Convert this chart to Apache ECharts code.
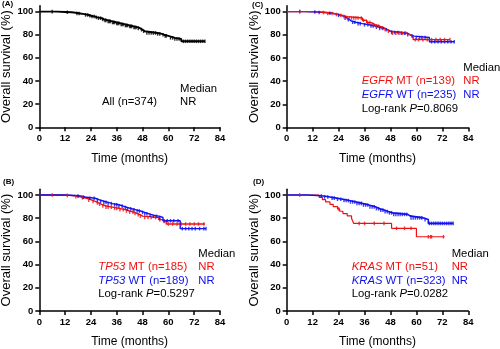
<!DOCTYPE html>
<html><head><meta charset="utf-8">
<script src="https://cdn.jsdelivr.net/npm/echarts@6/dist/echarts.min.js"></script>
<style>html,body{margin:0;padding:0;background:#fff}#c{width:500px;height:349px}</style>
</head><body><div id="c"></div>
<script>
// ---- axis ticks ----
const xTicks = [0, 12, 24, 36, 48, 60, 72, 84];
const yTicks = [0, 20, 40, 60, 80, 100];

// ---- Panel A: all patients ----
const A_time = [0, 8, 12, 15, 17, 19, 21, 23, 24, 26, 27, 29, 30, 32, 34, 36, 38, 40, 42, 44, 46, 47, 48, 49, 55, 57, 58, 60, 63, 66, 77];
const A_surv = [100, 99.7, 99.4, 99, 98.4, 97.8, 97.1, 96.4, 95.7, 95, 94.3, 93.3, 92.4, 91.5, 90.6, 89.8, 88.9, 88, 87.2, 86.3, 85.5, 84.3, 83, 81.5, 80.7, 80, 79, 77.3, 76.3, 74.3, 74.3];
const A_cens = [6, 13, 17.5, 18.5, 21.5, 22.5, 23.5, 24.5, 25.5, 26.5, 27.5, 28.5, 29.5, 30.5, 31, 32, 32.5, 33, 34, 34.5, 35, 36, 36.5, 37, 38, 38.5, 39, 40, 40.5, 41, 42, 42.5, 43, 44, 44.5, 45, 46, 47.5, 48.5, 50, 51, 52, 53, 54, 55, 56, 57.5, 58.5, 59, 61, 62, 63, 64, 65, 67, 68, 69, 70, 71, 72, 73, 74, 75, 76, 77];

// ---- Panel C: EGFR ----
const C_mt_time = [0, 13, 18, 22, 24, 26, 28, 35, 37, 39, 41, 43, 45, 46.5, 47.5, 55.5, 57, 58.5, 75.5];
const C_mt_surv = [100, 99.2, 98.3, 97.5, 96.6, 95.7, 94.5, 92.5, 90.5, 88.8, 87.4, 86, 84.5, 83, 81.4, 80.2, 78.5, 75.8, 75.8];
const C_mt_cens = [6, 17, 19, 21, 23, 25, 26.5, 28, 29, 30, 31, 32, 33, 34.5, 35.5, 37.5, 38.5, 40, 41.5, 42.5, 44, 45.5, 47, 49, 50.5, 52, 53.5, 55, 59.5, 61, 63, 65, 67, 69, 71, 73, 75.5];
const C_wt_time = [0, 8, 14, 18, 21, 23, 25, 27, 28, 29, 30, 32, 35, 38, 41, 43, 45, 47, 48, 53, 56, 57, 59, 66, 77.5];
const C_wt_surv = [100, 99.6, 99.2, 98.6, 97.8, 96.8, 95.6, 94.3, 93, 91.8, 90.8, 89.6, 88.6, 87.6, 86.5, 85.5, 84.3, 83, 82, 81.3, 80, 78.8, 77.6, 74, 74];
const C_wt_cens = [6, 13, 15, 20, 24, 27, 28.5, 30.5, 31.5, 33, 34, 36, 37.5, 39, 40, 41.5, 43, 44.5, 46, 48.5, 50, 51.5, 53, 54.5, 56, 58, 60, 61.5, 62.5, 64, 67, 68.5, 70, 71.5, 73, 74.5, 76, 77.5];

// ---- Panel B: TP53 ----
const B_mt_time = [0, 10, 14, 17, 19, 21, 23, 24.5, 26, 27.5, 29, 31, 34, 37, 40, 42, 44, 45.5, 47, 48, 55.5, 57, 59, 77];
const B_mt_surv = [100, 99.7, 99.2, 98.5, 97.6, 96.6, 95.6, 94.5, 93.2, 92, 90.5, 89.5, 88.5, 87.4, 86.2, 85.2, 84, 83, 81.8, 80.6, 78.8, 77.3, 75, 75];
const B_mt_cens = [6, 13, 17, 20, 23, 25, 27, 28, 29.5, 31, 32, 33.5, 35, 36, 37.5, 39, 40.5, 42, 43.5, 44.5, 46, 47, 49, 50.5, 52, 54, 56, 58, 60, 62, 64, 66, 68, 70, 72, 74, 76.5];
const B_wt_time = [0, 12, 17, 20, 22, 26, 28, 30, 32, 34, 37, 39, 41, 43, 45, 47, 49, 51, 53, 56, 57.5, 65.5, 77.5];
const B_wt_surv = [100, 99.6, 99, 98, 97.2, 95.8, 94.6, 93.6, 92.6, 91.6, 90.4, 89.2, 88.1, 87.2, 86.2, 85, 83.8, 82.6, 81.6, 80.6, 77.8, 71, 71];
const B_wt_cens = [18, 20.5, 23.5, 25.5, 27, 28.5, 30, 31, 32, 33.5, 35, 36, 37, 38.5, 40, 41, 42.5, 44, 45.5, 46.5, 48, 49, 50, 51.5, 53, 54.5, 56, 58, 59.5, 61, 62.5, 64.5, 66.5, 68, 69.5, 71, 72.5, 74.5, 76.5, 77.5];

// ---- Panel D: KRAS ----
const D_mt_time = [0, 15, 16.5, 18, 20, 21.5, 23.5, 24.5, 26, 28, 30, 30.5, 31, 48.5, 60, 73];
const D_mt_surv = [100, 98, 96, 94, 92, 90, 88, 86, 84, 82, 80, 77.5, 75.5, 71.3, 64, 64];
const D_mt_cens = [6, 24, 33.5, 36, 40.5, 45, 50.8, 54.5, 57.5, 65.5, 66.5, 67, 72.5];
const D_wt_time = [0, 10, 14, 17, 20, 23, 26, 29, 32, 35, 38, 41, 43, 45, 47, 49, 56, 57, 63, 65.5, 77];
const D_wt_surv = [100, 99.6, 99.2, 98.3, 97.3, 96.3, 95.2, 94, 92.8, 91.4, 89.8, 88.2, 87, 85.7, 84.6, 83.3, 82, 80.3, 78.8, 75.5, 75.5];
const D_wt_cens = [16, 17.5, 19, 21, 22, 23.5, 25, 26.5, 27.5, 28.5, 29.5, 30.5, 31.5, 32.5, 33.5, 34.5, 35.5, 36.5, 37.5, 38.5, 39.5, 40.5, 41.5, 42.5, 43.5, 44.5, 45.5, 46.5, 47.5, 48.5, 49.5, 50.5, 51.5, 52.5, 53.5, 54.5, 55.5, 57.5, 58.5, 59.5, 60.5, 61.5, 62.5, 64, 66, 67, 68, 69, 70, 71, 72, 73, 74, 75, 76, 77];

const RED = '#f01010', BLUE = '#1010f0', BLACK = '#000';
const FONT = 'Liberation Sans, Arial, sans-serif';

function steps(t, s) { return t.map((x, i) => [x, s[i]]); }
function censors(c, t, s) {
  return c.map(x => { let v = s[0]; for (let i = 0; i < t.length; i++) { if (t[i] <= x) v = s[i]; } return [x, v]; });
}

const grids = [
  { left: 39.3, top: 5.8, width: 180.7, height: 121.5 },
  { left: 286.7, top: 5.8, width: 181.6, height: 121.7 },
  { left: 39.3, top: 189.2, width: 180.7, height: 121.8 },
  { left: 286.7, top: 189.2, width: 181.6, height: 121.8 }
].map(g => Object.assign({ outerBoundsMode: 'none', containLabel: false }, g));

const axisLine = { show: true, lineStyle: { color: BLACK, width: 1.5 } };
const axisTick = { show: true, length: 4, lineStyle: { color: BLACK, width: 1.5 } };
const xAxes = grids.map((g, i) => ({
  gridIndex: i, type: 'value', min: 0, max: 84, interval: 12,
  axisLine, axisTick, splitLine: { show: false },
  axisLabel: { color: BLACK, fontWeight: 'bold', fontSize: 9.5, fontFamily: FONT, margin: 6 },
  name: 'Time (months)', nameLocation: 'middle', nameGap: 25,
  nameTextStyle: { color: BLACK, fontSize: 12, fontFamily: FONT }
}));
const yAxes = grids.map((g, i) => ({
  gridIndex: i, type: 'value', min: 0, max: 105, interval: 20,
  axisLine, splitLine: { show: false },
  axisTick: Object.assign({ customValues: yTicks }, axisTick),
  axisLabel: { customValues: yTicks, color: BLACK, fontWeight: 'bold', fontSize: 9.5, fontFamily: FONT, margin: 6 },
  name: 'Overall survival (%)', nameLocation: 'middle', nameGap: 26,
  nameTextStyle: { color: BLACK, fontSize: 13, fontFamily: FONT }
}));

const series = [];
function addCurve(idx, t, s, c, color, lw) {
  series.push({ type: 'line', xAxisIndex: idx, yAxisIndex: idx, step: 'end', showSymbol: false, silent: true,
    data: steps(t, s), lineStyle: { color, width: lw }, animation: false, z: 2 });
  series.push({ type: 'scatter', xAxisIndex: idx, yAxisIndex: idx, symbol: 'rect', symbolSize: [1.4, 3.6],
    data: censors(c, t, s), itemStyle: { color }, silent: true, animation: false, z: 3 });
}
addCurve(0, A_time, A_surv, A_cens, BLACK, 1.9);
addCurve(1, C_wt_time, C_wt_surv, C_wt_cens, BLUE, 1.4);
addCurve(1, C_mt_time, C_mt_surv, C_mt_cens, RED, 1.4);
addCurve(2, B_mt_time, B_mt_surv, B_mt_cens, RED, 1.4);
addCurve(2, B_wt_time, B_wt_surv, B_wt_cens, BLUE, 1.4);
addCurve(3, D_mt_time, D_mt_surv, D_mt_cens, RED, 1.2);
addCurve(3, D_wt_time, D_wt_surv, D_wt_cens, BLUE, 1.6);

const FS = 11.3, LH = 13;
function txt(text, left, cy, color, extra) {
  return Object.assign({ text, left, top: cy - LH / 2, padding: 0,
    textStyle: { color, fontSize: FS, fontWeight: 'normal', fontFamily: FONT, lineHeight: LH,
      rich: { i: { fontStyle: 'italic', color, fontSize: FS, fontFamily: FONT, lineHeight: LH },
              n: { color, fontSize: FS, fontFamily: FONT, lineHeight: LH } } } }, extra || {});
}
function panelLabel(text, left, top) {
  return { text, left, top, padding: 0, textStyle: { color: BLACK, fontSize: 8, fontWeight: 'bold', fontFamily: FONT } };
}
const titles = [
  panelLabel('(A)', 2, 0), panelLabel('(C)', 252, 1), panelLabel('(B)', 3, 178), panelLabel('(D)', 253, 178),
  // A
  txt('Median', 180, 89, BLACK), txt('All (n=374)', 102, 102, BLACK), txt('NR', 180, 102, BLACK),
  // C
  txt('Median', 463.3, 68, BLACK),
  txt('{i|EGFR}{n| MT (n=139)}', 361.7, 81, RED), txt('NR', 463.3, 81, RED),
  txt('{i|EGFR}{n| WT (n=235)}', 361.7, 95.3, BLUE), txt('NR', 463.3, 95.3, BLUE),
  txt('{n|Log-rank }{i|P}{n|=0.8069}', 361.7, 108.5, BLACK),
  // B
  txt('Median', 198.3, 254.3, BLACK),
  txt('{i|TP53}{n| MT (n=185)}', 98.3, 267, RED), txt('NR', 198.3, 267, RED),
  txt('{i|TP53}{n| WT (n=189)}', 98.3, 281, BLUE), txt('NR', 198.3, 281, BLUE),
  txt('{n|Log-rank }{i|P}{n|=0.5297}', 98.3, 294, BLACK),
  // D
  txt('Median', 451.7, 254.3, BLACK),
  txt('{i|KRAS}{n| MT (n=51)}', 351.7, 267, RED), txt('NR', 451.7, 267, RED),
  txt('{i|KRAS}{n| WT (n=323)}', 351.7, 281, BLUE), txt('NR', 451.7, 281, BLUE),
  txt('{n|Log-rank }{i|P}{n|=0.0282}', 351.7, 294, BLACK)
];

const chart = echarts.init(document.getElementById('c'), null, { renderer: 'canvas' });
chart.setOption({
  backgroundColor: '#fff', animation: false,
  title: titles, grid: grids, xAxis: xAxes, yAxis: yAxes, series
});
</script></body></html>
